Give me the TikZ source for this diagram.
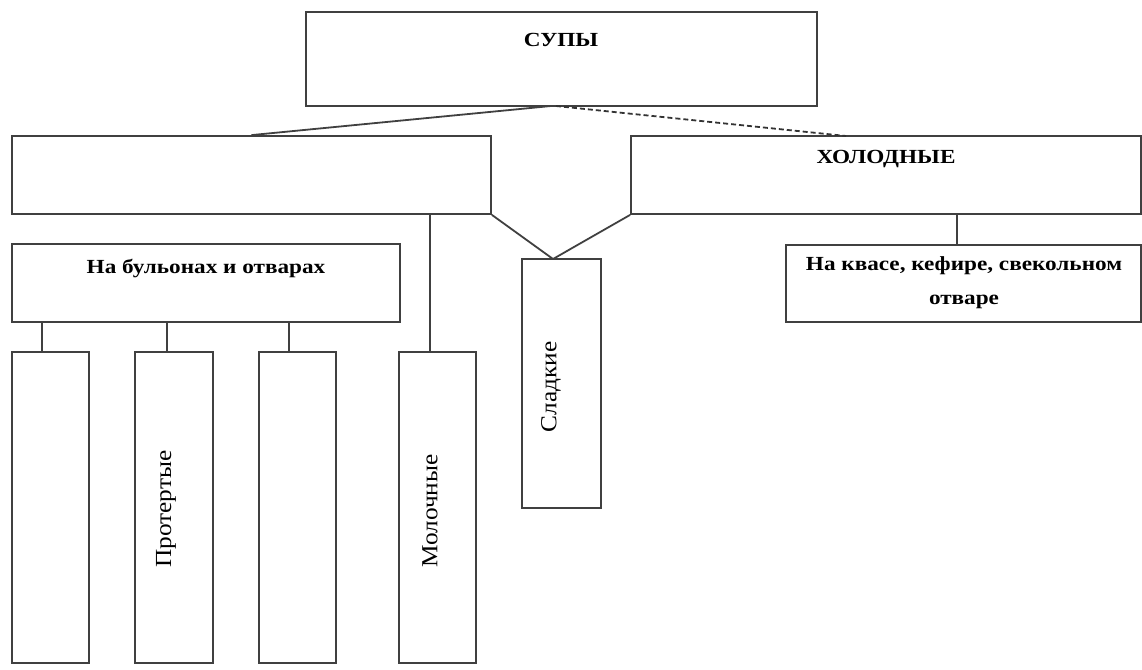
\documentclass[tikz,border=0pt]{standalone}
\usepackage{fontspec}
\setmainfont{Liberation Serif}
\newfontfamily\hdrfont[FakeStretch=1.16]{Liberation Serif}
\newfontfamily\vfont[FakeStretch=1.1]{Liberation Serif}
\usetikzlibrary{calc}
\tikzset{
  box/.style={draw=black!75, line width=1.8pt, rectangle, inner sep=0pt},
  conn/.style={draw=black!75, line width=1.8pt},
  dconn/.style={draw=black!80, line width=1.8pt, dash pattern=on 5pt off 3pt},
  hdr/.style={font=\hdrfont\bfseries\fontsize{20}{34}\selectfont, inner sep=0pt, align=center},
  vtxt/.style={font=\vfont\fontsize{23}{26}\selectfont, inner sep=0pt, rotate=90}
}
\begin{document}
\begin{tikzpicture}[x=1pt,y=-1pt]
\useasboundingbox (0,0) rectangle (1142,669);
% boxes
\node[box, minimum width=511pt, minimum height=94pt] (top) at (561.5,59) {};
\node[hdr] (topt) at (561,40) {СУПЫ};
\node[box, minimum width=479pt, minimum height=78pt] (left) at (251.5,175) {};
\node[box, minimum width=510pt, minimum height=78pt] (right) at (886,175) {};
\node[hdr] (rightt) at (886,159) {ХОЛОДНЫЕ};
\node[box, minimum width=388pt, minimum height=78pt] (nabul) at (206,283) {};
\node[hdr] (nabult) at (206,268) {На бульонах и отварах};
\node[box, minimum width=355pt, minimum height=77pt] (kvas) at (963.5,283.5) {};
\node[hdr] (kvast) at (964,283) {На квасе, кефире, свекольном\\отваре};
\node[box, minimum width=79pt, minimum height=249pt] (sladk) at (561.5,383.5) {};
\node[vtxt] (sladkt) at (551,387) {Сладкие};
\node[box, minimum width=77pt, minimum height=311pt] (b1) at (50.5,507.5) {};
\node[box, minimum width=78pt, minimum height=311pt] (b2) at (174,507.5) {};
\node[vtxt] (b2t) at (166,509) {Протертые};
\node[box, minimum width=77pt, minimum height=311pt] (b3) at (297.5,507.5) {};
\node[box, minimum width=77pt, minimum height=311pt] (mol) at (437.5,507.5) {};
\node[vtxt] (molt) at (430,511) {Молочные};
% connector points
\coordinate (apex) at (551,106);
\coordinate (dapex) at (556,106);
\coordinate (dend) at (846,136);
\coordinate (vtip) at (553,259);
% connectors
\draw[conn] (apex) -- (left.north);
\draw[dconn] (dapex) -- (dend);
\draw[conn] (left.south east) -- (vtip);
\draw[conn] (right.south west) -- (vtip);
\draw[conn] (left.south -| 430,0) -- (mol.north -| 430,0);
\draw[conn] (right.south -| 957,0) -- (kvas.north -| 957,0);
\draw[conn] (nabul.south -| 42,0) -- (b1.north -| 42,0);
\draw[conn] (nabul.south -| 167,0) -- (b2.north -| 167,0);
\draw[conn] (nabul.south -| 289,0) -- (b3.north -| 289,0);
\end{tikzpicture}
\end{document}
